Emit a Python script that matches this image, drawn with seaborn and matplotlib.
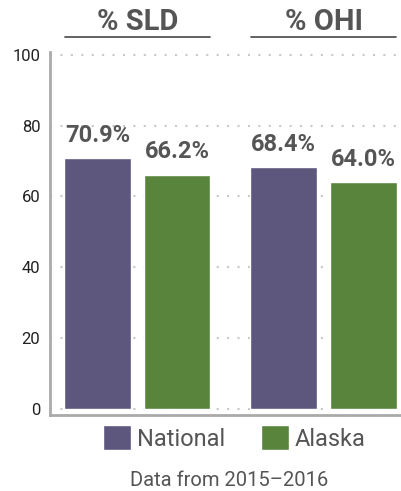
import matplotlib
matplotlib.use('Agg')
import matplotlib.pyplot as plt
import pandas as pd
import seaborn as sns

measures = ['% SLD', '% OHI']
groups = ['National', 'Alaska']
national = [70.9, 68.4]
alaska = [66.2, 64.0]
yticks = [0, 20, 40, 60, 80, 100]
colors = ['#5d577e', '#58843c']
note = 'Data from 2015\u20132016'

df = pd.DataFrame({
    'measure': measures * 2,
    'group': [groups[0]] * 2 + [groups[1]] * 2,
    'value': national + alaska,
})

sns.set_theme(style='white')
plt.rcParams['font.family'] = ['Roboto', 'DejaVu Sans']

fig = plt.figure(figsize=(4.02, 4.91), dpi=100)
ax = fig.add_axes([0.1244, 0.1548, 0.8706, 0.7393])

sns.barplot(data=df, x='measure', y='value', hue='group', palette=colors,
            width=0.856, gap=0.163, saturation=1, ax=ax, zorder=3)

ax.set_ylim(-1.7, 100.8)
ax.set_xlim(-0.468, 1.41)
ax.set_yticks(yticks)
ax.set_yticklabels([str(t) for t in yticks], fontsize=12, color='#222222')
ax.tick_params(axis='y', length=0, pad=7)
ax.set_xticks([])
ax.set_xlabel('')
ax.set_ylabel('')

ax.grid(axis='y', linestyle=(0, (1, 4)), color='#c8c8c8', linewidth=1.5, zorder=0)
ax.set_axisbelow(True)
for side in ['top', 'right']:
    ax.spines[side].set_visible(False)
for side in ['left', 'bottom']:
    ax.spines[side].set_color('#aaaaaa')
    ax.spines[side].set_linewidth(2)

for cont in ax.containers:
    vals = [b.get_height() for b in cont]
    ax.bar_label(cont, labels=[f'{v:.1f}%' for v in vals], padding=8,
                 fontsize=17, fontweight='bold', color='#555555')

# headers with underline above each group
tr = ax.get_xaxis_transform()
for i, m in enumerate(measures):
    ax.text(i, 1.083, m, transform=tr, ha='center', va='center',
            fontsize=21, fontweight='bold', color='#555555')
    ax.plot([i - 0.39, i + 0.39], [1.041, 1.041], transform=tr,
            color='#555555', linewidth=1.3, clip_on=False)

handles, labels = ax.get_legend_handles_labels()
ax.get_legend().remove()
fig.legend(handles, labels, loc='center', bbox_to_anchor=(234.5 / 402, 53 / 491),
           ncol=2, frameon=False, fontsize=17, handlelength=1.2, handleheight=1.2,
           handletextpad=0.25, columnspacing=1.5, labelcolor='#555555')

fig.text(229 / 402, 11 / 491, note, ha='center', va='center',
         fontsize=14.5, color='#555555')

fig.savefig('out.png', dpi=100)
